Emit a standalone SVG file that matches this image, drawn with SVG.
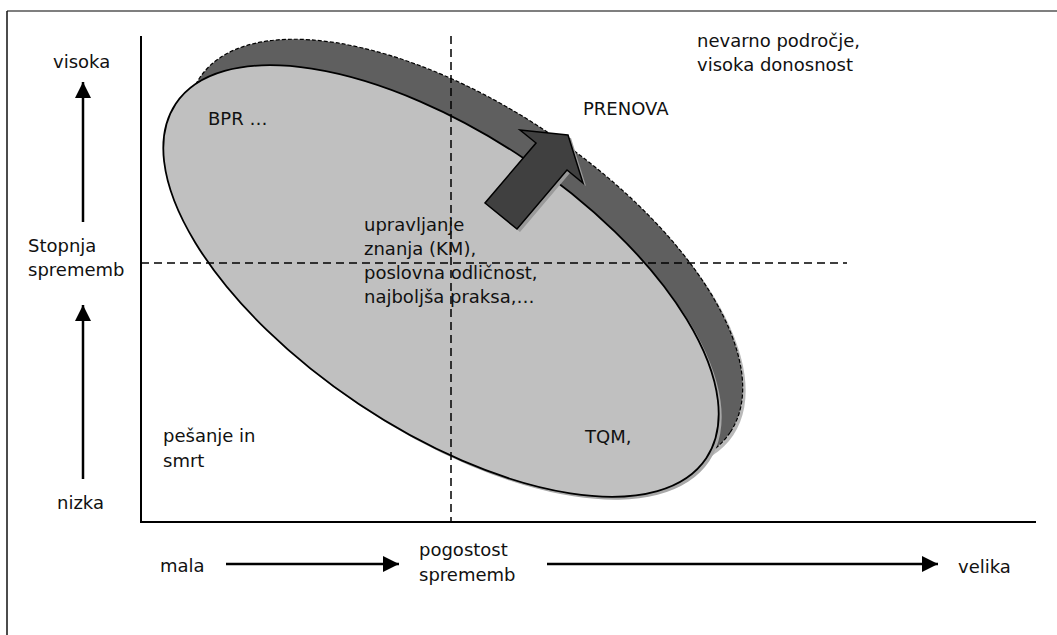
<svg xmlns="http://www.w3.org/2000/svg" width="1057" height="635" viewBox="0 0 1057 635">
  <defs>
    <style>
      text { font-family: "DejaVu Sans", Verdana, sans-serif; font-size: 18px; fill: #111; }
      .axis { stroke: #000; stroke-width: 2; fill: none; }
      .dash { stroke: #000; stroke-width: 1.5; stroke-dasharray: 8 5; fill: none; }
      .arrowline { stroke: #000; stroke-width: 2.5; fill: none; }
    </style>
    <marker id="head" viewBox="0 0 16 16" refX="16" refY="8" markerWidth="16" markerHeight="16" markerUnits="userSpaceOnUse" orient="auto">
      <path d="M0,0 L16,8 L0,16 Z" fill="#000"/>
    </marker>
  </defs>

  <rect x="0" y="0" width="1057" height="635" fill="#fff"/>

  <!-- outer frame -->
  <line x1="7" y1="11" x2="1057" y2="11" stroke="#555" stroke-width="1.5"/>
  <line x1="7" y1="11" x2="7" y2="635" stroke="#111" stroke-width="1.5"/>

  <!-- zone ellipses -->
  <g id="zone-renewal">
    <ellipse cx="468" cy="258" rx="319" ry="148" transform="rotate(33.75 468 258)" fill="#a8a8a8" stroke="none" opacity="0.8"/>
    <ellipse cx="465" cy="255" rx="319" ry="148" transform="rotate(33.75 465 255)" fill="#5f5f5f" stroke="#000" stroke-width="1.2" stroke-dasharray="4 2"/>
  </g>
  <g id="zone-main">
    <ellipse cx="444" cy="284" rx="319" ry="148" transform="rotate(33.75 444 284)" fill="#a8a8a8" stroke="none"/>
    <ellipse cx="441" cy="281" rx="319" ry="148" transform="rotate(33.75 441 281)" fill="#c0c0c0" stroke="#000" stroke-width="1.8"/>
  </g>

  <!-- block arrow toward renewal -->
  <g id="arrow-prenova">
    <polygon points="568,135 520,130 536,143 485,203 517,229 567,170 583,183" fill="#9a9a9a" transform="translate(3,3)"/>
    <polygon points="568,135 520,130 536,143 485,203 517,229 567,170 583,183" fill="#404040" stroke="#000" stroke-width="1.5" stroke-linejoin="miter"/>
  </g>

  <!-- connectors: axes, quadrant dividers, direction arrows -->
  <g id="connectors">
    <line class="axis" x1="141" y1="36" x2="141" y2="523"/>
    <line class="axis" x1="140" y1="522" x2="1036" y2="522"/>
    <line class="dash" x1="451" y1="36" x2="451" y2="522"/>
    <line class="dash" x1="141" y1="263" x2="847" y2="263"/>
    <line class="arrowline" x1="83" y1="222" x2="83" y2="82" marker-end="url(#head)"/>
    <line class="arrowline" x1="83" y1="479" x2="83" y2="305" marker-end="url(#head)"/>
    <line class="arrowline" x1="226" y1="564" x2="399" y2="564" marker-end="url(#head)"/>
    <line class="arrowline" x1="547" y1="564" x2="938" y2="564" marker-end="url(#head)"/>
  </g>

  <!-- labels -->
  <g id="label-visoka"><text x="53" y="68">visoka</text></g>
  <g id="label-stopnja"><text x="28" y="252">Stopnja</text><text x="28" y="276">sprememb</text></g>
  <g id="label-nizka"><text x="57" y="509">nizka</text></g>
  <g id="label-mala"><text x="160" y="572">mala</text></g>
  <g id="label-pogostost"><text x="419" y="556">pogostost</text><text x="419" y="581">sprememb</text></g>
  <g id="label-velika"><text x="958" y="573">velika</text></g>
  <g id="label-bpr"><text x="208" y="125">BPR …</text></g>
  <g id="label-prenova"><text x="583" y="115">PRENOVA</text></g>
  <g id="label-nevarno"><text x="697" y="47">nevarno področje,</text><text x="697" y="71">visoka donosnost</text></g>
  <g id="label-km">
    <text x="364" y="231">upravljanje</text>
    <text x="364" y="255">znanja (KM),</text>
    <text x="364" y="279">poslovna odličnost,</text>
    <text x="364" y="303">najboljša praksa,…</text>
  </g>
  <g id="label-pesanje"><text x="163" y="442">pešanje in</text><text x="163" y="467">smrt</text></g>
  <g id="label-tqm"><text x="585" y="443">TQM,</text></g>
</svg>
